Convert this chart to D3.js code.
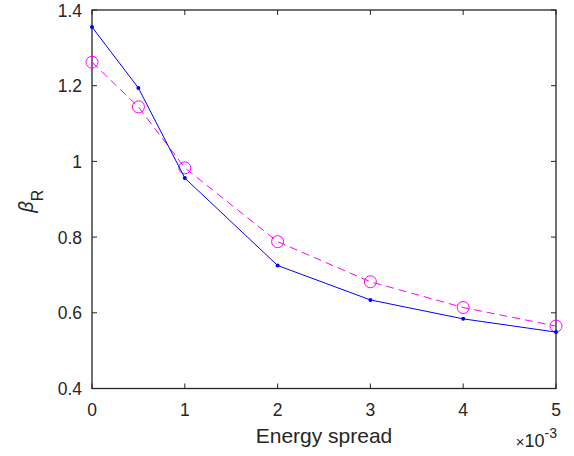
<!DOCTYPE html>
<html>
<head>
<meta charset="UTF-8">
<script src="https://d3js.org/d3.v7.min.js"></script>
<style>
  body { margin: 0; background: #fff; }
  text { font-family: "Liberation Sans", Arial, sans-serif; fill: #262626; }
</style>
</head>
<body>
<svg></svg>
<script>
var width = 574, height = 456;

// energy spread (x 1e-3)
var spread = [0, 0.5, 1, 2, 3, 4, 5];
var betaSolid = [1.355, 1.194, 0.956, 0.725, 0.634, 0.584, 0.549];
var betaDashed = [1.262, 1.144, 0.983, 0.788, 0.682, 0.614, 0.565];
var xTicks = [0, 1, 2, 3, 4, 5];
var yTicks = [0.4, 0.6, 0.8, 1, 1.2, 1.4];

var padL = 92, padR = 556, padT = 10, padB = 388.5;

var svg = d3.select("svg").attr("width", width).attr("height", height);

var x = d3.scaleLinear().domain([0, 5]).range([padL, padR]);
var y = d3.scaleLinear().domain([0.4, 1.4]).range([padB, padT]);

var axisCol = "#262626";

// ticks (inward, on all sides like matlab box)
var tl = 5;
var g = svg.append("g");
xTicks.forEach(function (t) {
  g.append("line").attr("x1", x(t)).attr("x2", x(t)).attr("y1", padB).attr("y2", padB - tl)
    .attr("stroke", axisCol);
  g.append("line").attr("x1", x(t)).attr("x2", x(t)).attr("y1", padT).attr("y2", padT + tl)
    .attr("stroke", axisCol);
  g.append("text").attr("x", x(t)).attr("y", 416).attr("text-anchor", "middle")
    .style("font-size", "17.5px").text(t);
});
yTicks.forEach(function (t) {
  g.append("line").attr("x1", padL).attr("x2", padL + tl).attr("y1", y(t)).attr("y2", y(t))
    .attr("stroke", axisCol);
  g.append("line").attr("x1", padR).attr("x2", padR - tl).attr("y1", y(t)).attr("y2", y(t))
    .attr("stroke", axisCol);
  g.append("text").attr("x", padL - 10).attr("y", y(t) + 6.5).attr("text-anchor", "end")
    .style("font-size", "17.5px").text(d3.format("~g")(t));
});

svg.append("rect").attr("x", padL).attr("y", padT).attr("width", padR - padL).attr("height", padB - padT)
  .attr("fill", "none").attr("stroke", axisCol).attr("stroke-width", 1.3);

var pts1 = spread.map(function (s, i) { return [s, betaSolid[i]]; });
var pts2 = spread.map(function (s, i) { return [s, betaDashed[i]]; });

var line = d3.line().x(d => x(d[0])).y(d => y(d[1]));

svg.append("path").datum(pts2).attr("d", line).attr("fill", "none")
  .attr("stroke", "#ff00ff").attr("stroke-width", 1).attr("stroke-dasharray", "8,5");
svg.selectAll(".ring").data(pts2).enter().append("circle")
  .attr("cx", d => x(d[0])).attr("cy", d => y(d[1])).attr("r", 6)
  .attr("fill", "none").attr("stroke", "#ff00ff").attr("stroke-width", 1);

svg.append("path").datum(pts1).attr("d", line).attr("fill", "none")
  .attr("stroke", "#0000ff").attr("stroke-width", 1);
svg.selectAll(".dot").data(pts1).enter().append("circle")
  .attr("cx", d => x(d[0])).attr("cy", d => y(d[1])).attr("r", 2)
  .attr("fill", "#0000ff");

// labels
svg.append("text").attr("x", (padL + padR) / 2).attr("y", 443).attr("text-anchor", "middle")
  .style("font-size", "21px").text("Energy spread");

var ex = svg.append("text").attr("x", padR + 1).attr("y", 447).attr("text-anchor", "end")
  .style("font-size", "18px");
ex.append("tspan").style("font-size", "15px").text("\u00d7");
ex.append("tspan").text("10");
ex.append("tspan").attr("dy", -9).style("font-size", "14px").text("-3");

var yl = svg.append("text").attr("transform", "translate(33," + ((padT + padB) / 2 + 2) + ") rotate(-90)")
  .attr("text-anchor", "middle").style("font-size", "20px");
yl.append("tspan").style("font-family", "'Noto Sans', sans-serif").style("font-style", "italic").text("\u03b2");
yl.append("tspan").attr("dy", 10).style("font-size", "16px").text("R");
</script>
</body>
</html>
